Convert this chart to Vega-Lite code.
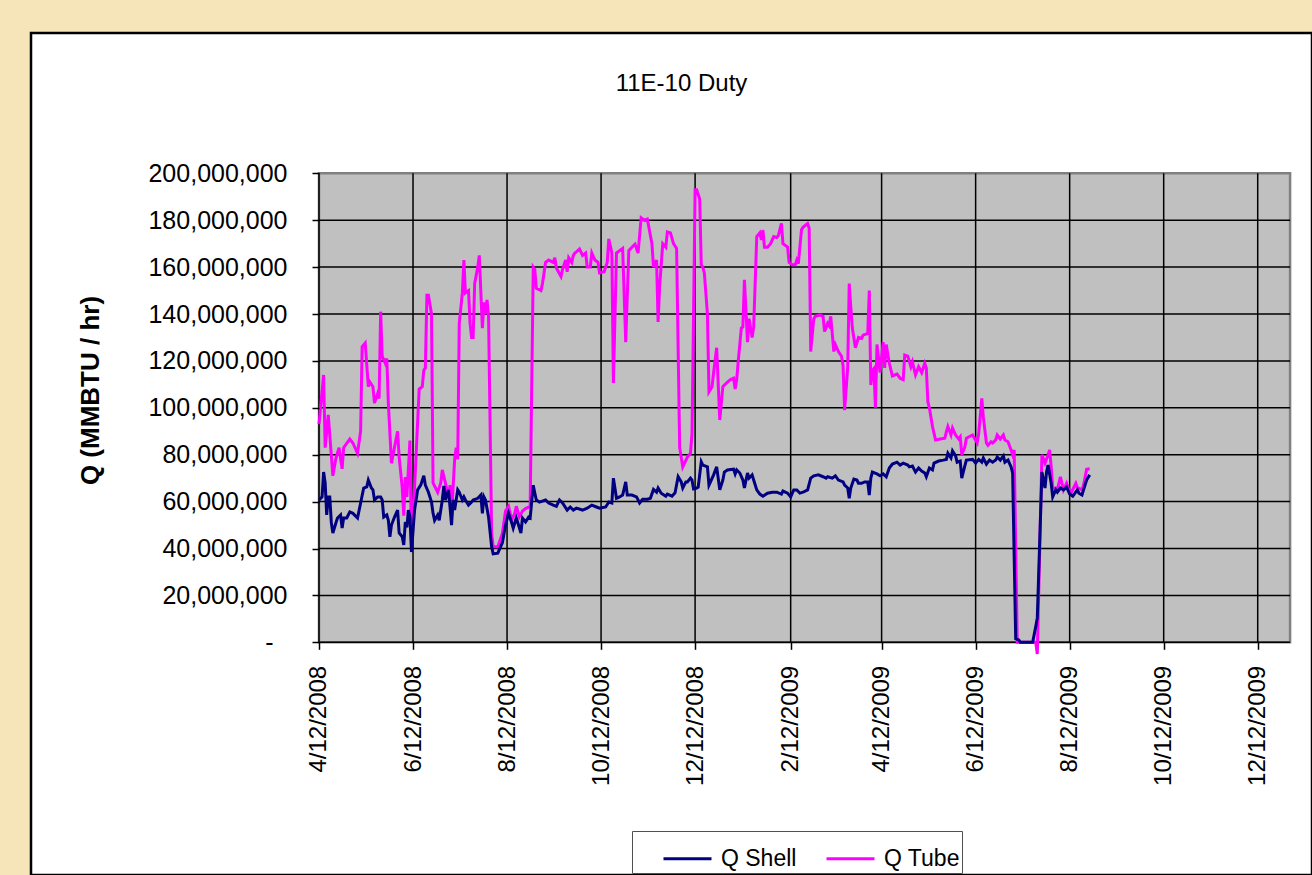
{
  "$schema": "https://vega.github.io/schema/vega-lite/v6.json",
  "width": 1281,
  "height": 842,
  "autosize": {"type": "none"},
  "padding": {"left": 31, "top": 33, "right": 0, "bottom": 0},
  "background": "#F6E5B8",
  "config": {
    "font": "Liberation Sans",
    "view": {"fill": "#FFFFFF", "stroke": "#000000", "strokeWidth": 2.5}
  },
  "title": {"text": "11E-10 Duty", "fontSize": 24, "fontWeight": "normal", "font": "Liberation Sans", "color": "#000000", "anchor": "middle", "frame": "group", "dx": 10, "baseline": "alphabetic", "offset": -82},
  "resolve": {"axis": {"x": "independent", "y": "independent"}},
  "datasets": {
    "plot": [{"start": "2008-04-12", "end": "2010-01-02", "low": 0, "high": 200000000}],
    "vgrid": [
      {"date": "2008-04-12", "low": 0, "high": 200000000},
      {"date": "2008-06-12", "low": 0, "high": 200000000},
      {"date": "2008-08-12", "low": 0, "high": 200000000},
      {"date": "2008-10-12", "low": 0, "high": 200000000},
      {"date": "2008-12-12", "low": 0, "high": 200000000},
      {"date": "2009-02-12", "low": 0, "high": 200000000},
      {"date": "2009-04-12", "low": 0, "high": 200000000},
      {"date": "2009-06-12", "low": 0, "high": 200000000},
      {"date": "2009-08-12", "low": 0, "high": 200000000},
      {"date": "2009-10-12", "low": 0, "high": 200000000},
      {"date": "2009-12-12", "low": 0, "high": 200000000}
    ],
    "hgrid": [
      {"q": 0, "from": "2008-04-12", "to": "2010-01-02"},
      {"q": 20000000, "from": "2008-04-12", "to": "2010-01-02"},
      {"q": 40000000, "from": "2008-04-12", "to": "2010-01-02"},
      {"q": 60000000, "from": "2008-04-12", "to": "2010-01-02"},
      {"q": 80000000, "from": "2008-04-12", "to": "2010-01-02"},
      {"q": 100000000, "from": "2008-04-12", "to": "2010-01-02"},
      {"q": 120000000, "from": "2008-04-12", "to": "2010-01-02"},
      {"q": 140000000, "from": "2008-04-12", "to": "2010-01-02"},
      {"q": 160000000, "from": "2008-04-12", "to": "2010-01-02"},
      {"q": 180000000, "from": "2008-04-12", "to": "2010-01-02"}
    ],
    "shell": [
      {"date":"2008-04-12","q":60700000},{"date":"2008-04-14","q":62000000},{"date":"2008-04-15","q":72600000},{"date":"2008-04-16","q":68000000},{"date":"2008-04-17","q":54300000},{"date":"2008-04-18","q":62000000},{"date":"2008-04-19","q":62000000},{"date":"2008-04-20","q":51000000},{"date":"2008-04-21","q":46600000},{"date":"2008-04-23","q":51000000},{"date":"2008-04-24","q":53000000},{"date":"2008-04-26","q":54300000},{"date":"2008-04-27","q":48700000},{"date":"2008-04-28","q":53000000},{"date":"2008-04-30","q":53000000},
      {"date":"2008-05-02","q":55600000},{"date":"2008-05-04","q":55000000},{"date":"2008-05-07","q":53000000},{"date":"2008-05-09","q":59400000},{"date":"2008-05-11","q":65800000},{"date":"2008-05-13","q":66300000},{"date":"2008-05-14","q":69200000},{"date":"2008-05-16","q":65800000},{"date":"2008-05-17","q":65000000},{"date":"2008-05-18","q":60700000},{"date":"2008-05-20","q":62000000},{"date":"2008-05-22","q":62000000},{"date":"2008-05-23","q":60700000},{"date":"2008-05-24","q":53400000},{"date":"2008-05-26","q":54300000},{"date":"2008-05-27","q":52000000},{"date":"2008-05-28","q":45000000},{"date":"2008-05-29","q":50000000},{"date":"2008-05-31","q":53400000},
      {"date":"2008-06-02","q":56400000},{"date":"2008-06-03","q":46600000},{"date":"2008-06-05","q":45000000},{"date":"2008-06-06","q":41500000},{"date":"2008-06-07","q":51300000},{"date":"2008-06-08","q":49000000},{"date":"2008-06-09","q":56400000},{"date":"2008-06-10","q":53400000},{"date":"2008-06-11","q":38500000},{"date":"2008-06-13","q":56400000},{"date":"2008-06-15","q":65000000},{"date":"2008-06-17","q":67000000},{"date":"2008-06-19","q":71000000},{"date":"2008-06-20","q":67000000},{"date":"2008-06-22","q":64000000},{"date":"2008-06-24","q":59800000},{"date":"2008-06-25","q":55000000},{"date":"2008-06-26","q":52000000},{"date":"2008-06-28","q":54300000},{"date":"2008-06-29","q":52000000},
      {"date":"2008-07-01","q":60700000},{"date":"2008-07-02","q":66700000},{"date":"2008-07-03","q":60700000},{"date":"2008-07-05","q":65000000},{"date":"2008-07-06","q":57700000},{"date":"2008-07-07","q":50000000},{"date":"2008-07-08","q":60700000},{"date":"2008-07-09","q":56400000},{"date":"2008-07-11","q":65000000},{"date":"2008-07-12","q":64000000},{"date":"2008-07-14","q":60700000},{"date":"2008-07-15","q":62000000},{"date":"2008-07-16","q":60700000},{"date":"2008-07-18","q":58500000},{"date":"2008-07-20","q":59800000},{"date":"2008-07-21","q":60700000},{"date":"2008-07-24","q":61400000},{"date":"2008-07-26","q":62800000},{"date":"2008-07-27","q":55000000},{"date":"2008-07-28","q":62000000},{"date":"2008-07-29","q":60700000},{"date":"2008-07-31","q":53400000},
      {"date":"2008-08-02","q":40700000},{"date":"2008-08-03","q":37700000},{"date":"2008-08-06","q":38000000},{"date":"2008-08-09","q":42500000},{"date":"2008-08-11","q":50000000},{"date":"2008-08-13","q":55000000},{"date":"2008-08-15","q":51000000},{"date":"2008-08-16","q":48700000},{"date":"2008-08-18","q":53000000},{"date":"2008-08-19","q":51000000},{"date":"2008-08-21","q":46600000},{"date":"2008-08-22","q":53000000},{"date":"2008-08-24","q":51300000},{"date":"2008-08-26","q":53400000},{"date":"2008-08-27","q":53000000},{"date":"2008-08-29","q":67000000},{"date":"2008-08-30","q":63700000},{"date":"2008-08-31","q":60700000},
      {"date":"2008-09-02","q":59800000},{"date":"2008-09-06","q":60700000},{"date":"2008-09-08","q":59400000},{"date":"2008-09-11","q":58500000},{"date":"2008-09-13","q":58000000},{"date":"2008-09-15","q":60700000},{"date":"2008-09-17","q":59400000},{"date":"2008-09-20","q":56400000},{"date":"2008-09-22","q":57700000},{"date":"2008-09-24","q":56400000},{"date":"2008-09-26","q":57200000},{"date":"2008-09-30","q":56400000},
      {"date":"2008-10-03","q":57200000},{"date":"2008-10-06","q":58500000},{"date":"2008-10-09","q":57700000},{"date":"2008-10-11","q":57200000},{"date":"2008-10-15","q":57700000},{"date":"2008-10-17","q":59800000},{"date":"2008-10-19","q":59400000},{"date":"2008-10-20","q":70000000},{"date":"2008-10-22","q":61400000},{"date":"2008-10-24","q":62000000},{"date":"2008-10-26","q":62800000},{"date":"2008-10-28","q":68400000},{"date":"2008-10-29","q":62800000},
      {"date":"2008-11-01","q":62800000},{"date":"2008-11-04","q":62000000},{"date":"2008-11-06","q":59400000},{"date":"2008-11-08","q":61000000},{"date":"2008-11-11","q":61000000},{"date":"2008-11-13","q":61400000},{"date":"2008-11-15","q":65200000},{"date":"2008-11-17","q":64000000},{"date":"2008-11-18","q":65800000},{"date":"2008-11-20","q":63600000},{"date":"2008-11-23","q":62300000},{"date":"2008-11-24","q":63200000},{"date":"2008-11-27","q":62300000},{"date":"2008-11-29","q":63800000},
      {"date":"2008-12-01","q":70600000},{"date":"2008-12-03","q":68400000},{"date":"2008-12-04","q":65800000},{"date":"2008-12-06","q":68400000},{"date":"2008-12-07","q":68400000},{"date":"2008-12-09","q":70000000},{"date":"2008-12-10","q":69200000},{"date":"2008-12-11","q":65400000},{"date":"2008-12-13","q":65800000},{"date":"2008-12-14","q":66200000},{"date":"2008-12-16","q":77000000},{"date":"2008-12-17","q":75600000},{"date":"2008-12-20","q":74800000},{"date":"2008-12-21","q":67000000},{"date":"2008-12-22","q":68400000},{"date":"2008-12-24","q":71400000},{"date":"2008-12-26","q":74800000},{"date":"2008-12-28","q":65000000},{"date":"2008-12-30","q":69200000},{"date":"2008-12-31","q":72600000},
      {"date":"2009-01-02","q":73500000},{"date":"2009-01-06","q":73800000},{"date":"2009-01-07","q":71800000},{"date":"2009-01-08","q":73500000},{"date":"2009-01-10","q":72200000},{"date":"2009-01-12","q":69200000},{"date":"2009-01-13","q":65800000},{"date":"2009-01-15","q":72200000},{"date":"2009-01-16","q":70000000},{"date":"2009-01-18","q":71400000},{"date":"2009-01-19","q":69200000},{"date":"2009-01-21","q":65000000},{"date":"2009-01-23","q":63200000},{"date":"2009-01-25","q":62300000},{"date":"2009-01-28","q":63600000},{"date":"2009-01-31","q":64000000},
      {"date":"2009-02-03","q":64000000},{"date":"2009-02-06","q":63200000},{"date":"2009-02-07","q":64500000},{"date":"2009-02-10","q":63600000},{"date":"2009-02-12","q":62000000},{"date":"2009-02-14","q":65000000},{"date":"2009-02-16","q":65000000},{"date":"2009-02-18","q":63600000},{"date":"2009-02-20","q":64000000},{"date":"2009-02-23","q":65000000},{"date":"2009-02-25","q":70000000},{"date":"2009-02-27","q":71000000},
      {"date":"2009-03-02","q":71400000},{"date":"2009-03-05","q":70600000},{"date":"2009-03-07","q":70000000},{"date":"2009-03-08","q":70600000},{"date":"2009-03-11","q":70000000},{"date":"2009-03-13","q":71000000},{"date":"2009-03-15","q":69200000},{"date":"2009-03-18","q":68400000},{"date":"2009-03-19","q":67000000},{"date":"2009-03-21","q":65800000},{"date":"2009-03-22","q":61400000},{"date":"2009-03-23","q":65800000},{"date":"2009-03-25","q":69600000},{"date":"2009-03-27","q":69200000},{"date":"2009-03-28","q":67800000},{"date":"2009-03-30","q":67800000},
      {"date":"2009-04-01","q":68400000},{"date":"2009-04-03","q":68400000},{"date":"2009-04-04","q":62800000},{"date":"2009-04-05","q":70000000},{"date":"2009-04-06","q":72600000},{"date":"2009-04-09","q":71800000},{"date":"2009-04-11","q":71000000},{"date":"2009-04-13","q":71800000},{"date":"2009-04-15","q":70600000},{"date":"2009-04-17","q":74300000},{"date":"2009-04-19","q":76000000},{"date":"2009-04-22","q":76800000},{"date":"2009-04-24","q":75600000},{"date":"2009-04-26","q":76400000},{"date":"2009-04-29","q":75600000},{"date":"2009-04-30","q":74800000},
      {"date":"2009-05-02","q":75200000},{"date":"2009-05-04","q":72600000},{"date":"2009-05-06","q":74300000},{"date":"2009-05-08","q":73000000},{"date":"2009-05-10","q":72200000},{"date":"2009-05-11","q":70600000},{"date":"2009-05-13","q":74300000},{"date":"2009-05-15","q":73500000},{"date":"2009-05-16","q":76400000},{"date":"2009-05-19","q":77300000},{"date":"2009-05-22","q":77700000},{"date":"2009-05-24","q":78000000},{"date":"2009-05-25","q":80600000},{"date":"2009-05-27","q":78600000},{"date":"2009-05-28","q":81600000},{"date":"2009-05-30","q":79500000},{"date":"2009-05-31","q":76800000},
      {"date":"2009-06-02","q":77300000},{"date":"2009-06-03","q":70000000},{"date":"2009-06-05","q":75200000},{"date":"2009-06-06","q":77700000},{"date":"2009-06-10","q":78000000},{"date":"2009-06-12","q":76400000},{"date":"2009-06-14","q":78000000},{"date":"2009-06-16","q":76800000},{"date":"2009-06-17","q":78600000},{"date":"2009-06-19","q":76000000},{"date":"2009-06-21","q":77700000},{"date":"2009-06-23","q":76800000},{"date":"2009-06-25","q":77700000},{"date":"2009-06-26","q":79000000},{"date":"2009-06-28","q":77700000},{"date":"2009-06-30","q":79500000},
      {"date":"2009-07-01","q":76800000},{"date":"2009-07-03","q":77700000},{"date":"2009-07-05","q":74800000},{"date":"2009-07-06","q":72200000},{"date":"2009-07-08","q":1500000},{"date":"2009-07-10","q":1000000},{"date":"2009-07-11","q":0},{"date":"2009-07-15","q":0},{"date":"2009-07-19","q":0},{"date":"2009-07-21","q":6700000},{"date":"2009-07-22","q":10400000},{"date":"2009-07-25","q":72600000},{"date":"2009-07-27","q":65800000},{"date":"2009-07-28","q":72600000},{"date":"2009-07-29","q":75600000},{"date":"2009-07-31","q":67800000},
      {"date":"2009-08-01","q":62000000},{"date":"2009-08-03","q":65000000},{"date":"2009-08-04","q":64000000},{"date":"2009-08-06","q":65800000},{"date":"2009-08-08","q":65000000},{"date":"2009-08-10","q":66200000},{"date":"2009-08-12","q":63200000},{"date":"2009-08-14","q":62300000},{"date":"2009-08-17","q":65000000},{"date":"2009-08-18","q":63600000},{"date":"2009-08-20","q":62800000},{"date":"2009-08-21","q":65000000},{"date":"2009-08-23","q":69200000},{"date":"2009-08-25","q":71400000}
    ],
    "tube": [
      {"date":"2008-04-12","q":93000000},{"date":"2008-04-15","q":114000000},{"date":"2008-04-16","q":83000000},{"date":"2008-04-18","q":97000000},{"date":"2008-04-21","q":71000000},{"date":"2008-04-23","q":78600000},{"date":"2008-04-25","q":83000000},{"date":"2008-04-27","q":74000000},{"date":"2008-04-28","q":83000000},
      {"date":"2008-05-02","q":86700000},{"date":"2008-05-04","q":85000000},{"date":"2008-05-07","q":80600000},{"date":"2008-05-09","q":90000000},{"date":"2008-05-10","q":126000000},{"date":"2008-05-12","q":127600000},{"date":"2008-05-14","q":109000000},{"date":"2008-05-15","q":111000000},{"date":"2008-05-17","q":109000000},{"date":"2008-05-18","q":102000000},{"date":"2008-05-20","q":106000000},{"date":"2008-05-21","q":104000000},{"date":"2008-05-22","q":141000000},{"date":"2008-05-23","q":122000000},{"date":"2008-05-25","q":119000000},{"date":"2008-05-26","q":121000000},{"date":"2008-05-27","q":102000000},{"date":"2008-05-29","q":76400000},
      {"date":"2008-06-02","q":90000000},{"date":"2008-06-03","q":79000000},{"date":"2008-06-05","q":66000000},{"date":"2008-06-06","q":54000000},{"date":"2008-06-07","q":70500000},{"date":"2008-06-08","q":62000000},{"date":"2008-06-10","q":86000000},{"date":"2008-06-11","q":42000000},{"date":"2008-06-13","q":66000000},{"date":"2008-06-16","q":108000000},{"date":"2008-06-18","q":109000000},{"date":"2008-06-19","q":116000000},{"date":"2008-06-20","q":117000000},{"date":"2008-06-21","q":148000000},{"date":"2008-06-22","q":148000000},{"date":"2008-06-24","q":140000000},{"date":"2008-06-25","q":68000000},{"date":"2008-06-28","q":64000000},{"date":"2008-06-30","q":68000000},
      {"date":"2008-07-01","q":73500000},{"date":"2008-07-03","q":68000000},{"date":"2008-07-05","q":62000000},{"date":"2008-07-06","q":67000000},{"date":"2008-07-07","q":54000000},{"date":"2008-07-09","q":78000000},{"date":"2008-07-10","q":83000000},{"date":"2008-07-11","q":78000000},{"date":"2008-07-12","q":136000000},{"date":"2008-07-14","q":149000000},{"date":"2008-07-15","q":163000000},{"date":"2008-07-16","q":149000000},{"date":"2008-07-18","q":150000000},{"date":"2008-07-19","q":136000000},{"date":"2008-07-20","q":130000000},{"date":"2008-07-21","q":130000000},{"date":"2008-07-22","q":153000000},{"date":"2008-07-24","q":160000000},{"date":"2008-07-25","q":165000000},{"date":"2008-07-27","q":134000000},{"date":"2008-07-28","q":145000000},{"date":"2008-07-29","q":140000000},{"date":"2008-07-30","q":146000000},{"date":"2008-07-31","q":139000000},
      {"date":"2008-08-02","q":46500000},{"date":"2008-08-03","q":40700000},{"date":"2008-08-06","q":40700000},{"date":"2008-08-09","q":46500000},{"date":"2008-08-11","q":56000000},{"date":"2008-08-13","q":58000000},{"date":"2008-08-15","q":52000000},{"date":"2008-08-17","q":55000000},{"date":"2008-08-18","q":58000000},{"date":"2008-08-20","q":53500000},{"date":"2008-08-22","q":56000000},{"date":"2008-08-24","q":57000000},{"date":"2008-08-27","q":58000000},{"date":"2008-08-29","q":160000000},{"date":"2008-08-30","q":159000000},{"date":"2008-08-31","q":151000000},
      {"date":"2008-09-03","q":150000000},{"date":"2008-09-04","q":153000000},{"date":"2008-09-06","q":162000000},{"date":"2008-09-08","q":163000000},{"date":"2008-09-11","q":162000000},{"date":"2008-09-12","q":164000000},{"date":"2008-09-13","q":159600000},{"date":"2008-09-16","q":156000000},{"date":"2008-09-17","q":159000000},{"date":"2008-09-19","q":163000000},{"date":"2008-09-20","q":158000000},{"date":"2008-09-21","q":164000000},{"date":"2008-09-23","q":162000000},{"date":"2008-09-24","q":165000000},{"date":"2008-09-25","q":166000000},{"date":"2008-09-26","q":166500000},{"date":"2008-09-28","q":167700000},{"date":"2008-09-30","q":165000000},
      {"date":"2008-10-02","q":166000000},{"date":"2008-10-03","q":160000000},{"date":"2008-10-05","q":160000000},{"date":"2008-10-06","q":166000000},{"date":"2008-10-08","q":163000000},{"date":"2008-10-10","q":162000000},{"date":"2008-10-11","q":157500000},{"date":"2008-10-14","q":158000000},{"date":"2008-10-16","q":162000000},{"date":"2008-10-17","q":172000000},{"date":"2008-10-19","q":166000000},{"date":"2008-10-20","q":110600000},{"date":"2008-10-22","q":166000000},{"date":"2008-10-26","q":168000000},{"date":"2008-10-28","q":128000000},{"date":"2008-10-30","q":167000000},
      {"date":"2008-11-01","q":168500000},{"date":"2008-11-03","q":169800000},{"date":"2008-11-05","q":166000000},{"date":"2008-11-07","q":181000000},{"date":"2008-11-09","q":180000000},{"date":"2008-11-11","q":180500000},{"date":"2008-11-14","q":170000000},{"date":"2008-11-15","q":160000000},{"date":"2008-11-17","q":163000000},{"date":"2008-11-18","q":136600000},{"date":"2008-11-19","q":151600000},{"date":"2008-11-21","q":170000000},{"date":"2008-11-23","q":168500000},{"date":"2008-11-24","q":175000000},{"date":"2008-11-26","q":174600000},{"date":"2008-11-28","q":170000000},{"date":"2008-11-30","q":168000000},
      {"date":"2008-12-02","q":83000000},{"date":"2008-12-04","q":74800000},{"date":"2008-12-07","q":79000000},{"date":"2008-12-09","q":80600000},{"date":"2008-12-10","q":89000000},{"date":"2008-12-12","q":193000000},{"date":"2008-12-13","q":193000000},{"date":"2008-12-15","q":189000000},{"date":"2008-12-16","q":161000000},{"date":"2008-12-17","q":160000000},{"date":"2008-12-18","q":157500000},{"date":"2008-12-20","q":140000000},{"date":"2008-12-21","q":106800000},{"date":"2008-12-23","q":109000000},{"date":"2008-12-24","q":115000000},{"date":"2008-12-26","q":125600000},{"date":"2008-12-28","q":94800000},{"date":"2008-12-30","q":109000000},
      {"date":"2009-01-02","q":111000000},{"date":"2009-01-04","q":112000000},{"date":"2009-01-06","q":112600000},{"date":"2009-01-07","q":108000000},{"date":"2009-01-08","q":112000000},{"date":"2009-01-09","q":120000000},{"date":"2009-01-11","q":134000000},{"date":"2009-01-12","q":134500000},{"date":"2009-01-13","q":154600000},{"date":"2009-01-15","q":128000000},{"date":"2009-01-16","q":138000000},{"date":"2009-01-18","q":130000000},{"date":"2009-01-19","q":134500000},{"date":"2009-01-21","q":173000000},{"date":"2009-01-23","q":174600000},{"date":"2009-01-24","q":171600000},{"date":"2009-01-25","q":175800000},{"date":"2009-01-26","q":168500000},{"date":"2009-01-28","q":168500000},{"date":"2009-01-30","q":170000000},
      {"date":"2009-02-01","q":173000000},{"date":"2009-02-03","q":172600000},{"date":"2009-02-04","q":173400000},{"date":"2009-02-06","q":178600000},{"date":"2009-02-07","q":170000000},{"date":"2009-02-10","q":168500000},{"date":"2009-02-11","q":162000000},{"date":"2009-02-13","q":161000000},{"date":"2009-02-15","q":161000000},{"date":"2009-02-16","q":163000000},{"date":"2009-02-17","q":161500000},{"date":"2009-02-19","q":175800000},{"date":"2009-02-20","q":177000000},{"date":"2009-02-23","q":178600000},{"date":"2009-02-24","q":176600000},{"date":"2009-02-25","q":124000000},{"date":"2009-02-27","q":138000000},{"date":"2009-02-28","q":139000000},
      {"date":"2009-03-03","q":139600000},{"date":"2009-03-05","q":139000000},{"date":"2009-03-06","q":132500000},{"date":"2009-03-08","q":136000000},{"date":"2009-03-09","q":135000000},{"date":"2009-03-10","q":139000000},{"date":"2009-03-12","q":124000000},{"date":"2009-03-13","q":127000000},{"date":"2009-03-15","q":124000000},{"date":"2009-03-17","q":122000000},{"date":"2009-03-18","q":118000000},{"date":"2009-03-19","q":99000000},{"date":"2009-03-21","q":117000000},{"date":"2009-03-22","q":153000000},{"date":"2009-03-23","q":143000000},{"date":"2009-03-24","q":134000000},{"date":"2009-03-26","q":125600000},{"date":"2009-03-28","q":130000000},{"date":"2009-03-30","q":129600000},{"date":"2009-03-31","q":131000000},
      {"date":"2009-04-03","q":131700000},{"date":"2009-04-04","q":150000000},{"date":"2009-04-05","q":109700000},{"date":"2009-04-06","q":116000000},{"date":"2009-04-07","q":116800000},{"date":"2009-04-08","q":100000000},{"date":"2009-04-09","q":127000000},{"date":"2009-04-11","q":115000000},{"date":"2009-04-13","q":128000000},{"date":"2009-04-14","q":117000000},{"date":"2009-04-15","q":127000000},{"date":"2009-04-17","q":119000000},{"date":"2009-04-19","q":113600000},{"date":"2009-04-22","q":114400000},{"date":"2009-04-24","q":112600000},{"date":"2009-04-26","q":112000000},{"date":"2009-04-27","q":122500000},{"date":"2009-04-29","q":122000000},
      {"date":"2009-05-01","q":117500000},{"date":"2009-05-02","q":119600000},{"date":"2009-05-04","q":114000000},{"date":"2009-05-06","q":117500000},{"date":"2009-05-08","q":115000000},{"date":"2009-05-10","q":119000000},{"date":"2009-05-11","q":117000000},{"date":"2009-05-12","q":102600000},{"date":"2009-05-13","q":100000000},{"date":"2009-05-15","q":92000000},{"date":"2009-05-17","q":86300000},{"date":"2009-05-20","q":86700000},{"date":"2009-05-23","q":87000000},{"date":"2009-05-24","q":89700000},{"date":"2009-05-25","q":92000000},{"date":"2009-05-27","q":88400000},{"date":"2009-05-28","q":91400000},{"date":"2009-05-30","q":88400000},
      {"date":"2009-06-01","q":86700000},{"date":"2009-06-02","q":87600000},{"date":"2009-06-03","q":80000000},{"date":"2009-06-05","q":83300000},{"date":"2009-06-06","q":87000000},{"date":"2009-06-10","q":88400000},{"date":"2009-06-13","q":85000000},{"date":"2009-06-14","q":89000000},{"date":"2009-06-16","q":104000000},{"date":"2009-06-17","q":96000000},{"date":"2009-06-19","q":85000000},{"date":"2009-06-20","q":84000000},{"date":"2009-06-22","q":85500000},{"date":"2009-06-23","q":85000000},{"date":"2009-06-25","q":86300000},{"date":"2009-06-26","q":88400000},{"date":"2009-06-28","q":86700000},{"date":"2009-06-30","q":88400000},
      {"date":"2009-07-01","q":86300000},{"date":"2009-07-03","q":85500000},{"date":"2009-07-05","q":82000000},{"date":"2009-07-06","q":80000000},{"date":"2009-07-07","q":82000000},{"date":"2009-07-09","q":0},{"date":"2009-07-12","q":0},{"date":"2009-07-15","q":0},{"date":"2009-07-18","q":0},{"date":"2009-07-21","q":0},{"date":"2009-07-22","q":-5000000},{"date":"2009-07-25","q":80000000},{"date":"2009-07-27","q":76400000},{"date":"2009-07-29","q":80000000},{"date":"2009-07-30","q":82000000},{"date":"2009-07-31","q":75000000},
      {"date":"2009-08-01","q":65800000},{"date":"2009-08-03","q":65800000},{"date":"2009-08-04","q":65000000},{"date":"2009-08-06","q":70600000},{"date":"2009-08-08","q":65000000},{"date":"2009-08-10","q":67800000},{"date":"2009-08-11","q":65800000},{"date":"2009-08-13","q":63800000},{"date":"2009-08-16","q":67800000},{"date":"2009-08-17","q":66000000},{"date":"2009-08-20","q":65000000},{"date":"2009-08-21","q":67000000},{"date":"2009-08-23","q":73800000},{"date":"2009-08-25","q":74000000}
    ]
  },
  "layer": [
    {
      "data": {"name": "plot"},
      "mark": {"type": "rect", "fill": "#C0C0C0", "stroke": "#808080", "strokeWidth": 2.5},
      "encoding": {
        "x": {"field": "start", "type": "temporal",
          "scale": {"type": "utc", "nice": false, "domain": [{"year": 2007, "month": 10, "date": 8, "hours": 3, "minutes": 50, "utc": true}, {"year": 2010, "month": 1, "date": 16, "hours": 5, "minutes": 17, "utc": true}]},
          "axis": {"orient": "bottom", "offset": -232.7, "title": null, "domain": false, "grid": false, "zindex": 1,
            "values": [{"year": 2008, "month": 4, "date": 12, "utc": true}, {"year": 2008, "month": 6, "date": 12, "utc": true}, {"year": 2008, "month": 8, "date": 12, "utc": true}, {"year": 2008, "month": 10, "date": 12, "utc": true}, {"year": 2008, "month": 12, "date": 12, "utc": true}, {"year": 2009, "month": 2, "date": 12, "utc": true}, {"year": 2009, "month": 4, "date": 12, "utc": true}, {"year": 2009, "month": 6, "date": 12, "utc": true}, {"year": 2009, "month": 8, "date": 12, "utc": true}, {"year": 2009, "month": 10, "date": 12, "utc": true}, {"year": 2009, "month": 12, "date": 12, "utc": true}],
            "labelExpr": "utcFormat(datum.value, '%-m/%d/%Y')",
            "labelAngle": 270, "labelAlign": "right", "labelBaseline": "middle", "labelPadding": 16,
            "labelFont": "Liberation Sans", "labelFontSize": 24, "labelColor": "#000000",
            "labelOverlap": false, "labelFlush": false, "labelBound": false,
            "tickSize": 7, "tickColor": "#000000", "tickWidth": 1.5}},
        "x2": {"field": "end"},
        "y": {"field": "low", "type": "quantitative",
          "scale": {"domain": [-99230000, 259830000], "nice": false, "zero": false},
          "axis": {"orient": "left", "offset": -288, "domain": false, "grid": false, "zindex": 1,
            "values": [0, 20000000, 40000000, 60000000, 80000000, 100000000, 120000000, 140000000, 160000000, 180000000, 200000000],
            "labelExpr": "datum.value == 0 ? '-' : format(datum.value, ',')",
            "labelFont": "Liberation Sans", "labelFontSize": 25, "labelColor": "#000000",
            "labelPadding": {"condition": {"test": "datum.value == 0", "value": 39}, "value": 25},
            "labelOverlap": false, "labelFlush": false, "labelBound": false,
            "tickSize": 7, "tickColor": "#000000", "tickWidth": 1.5,
            "title": "Q (MMBTU / hr)", "titleFont": "Liberation Sans", "titleFontSize": 26, "titleFontWeight": "bold", "titleColor": "#000000",
            "titleX": -229, "titleY": 357, "titleAngle": 270, "titleAlign": "center", "titleBaseline": "middle"}},
        "y2": {"field": "high"}
      }
    },
    {
      "data": {"name": "vgrid"},
      "mark": {"type": "rule", "color": "#000000", "strokeWidth": 1.5},
      "encoding": {
        "x": {"field": "date", "type": "temporal", "axis": null,
          "scale": {"type": "utc", "nice": false, "domain": [{"year": 2007, "month": 10, "date": 8, "hours": 3, "minutes": 50, "utc": true}, {"year": 2010, "month": 1, "date": 16, "hours": 5, "minutes": 17, "utc": true}]}},
        "y": {"field": "low", "type": "quantitative", "axis": null, "scale": {"domain": [-99230000, 259830000], "nice": false, "zero": false}},
        "y2": {"field": "high"}
      }
    },
    {
      "data": {"name": "hgrid"},
      "mark": {"type": "rule", "color": "#000000", "strokeWidth": 1.5},
      "encoding": {
        "x": {"field": "from", "type": "temporal", "axis": null,
          "scale": {"type": "utc", "nice": false, "domain": [{"year": 2007, "month": 10, "date": 8, "hours": 3, "minutes": 50, "utc": true}, {"year": 2010, "month": 1, "date": 16, "hours": 5, "minutes": 17, "utc": true}]}},
        "x2": {"field": "to"},
        "y": {"field": "q", "type": "quantitative", "axis": null, "scale": {"domain": [-99230000, 259830000], "nice": false, "zero": false}}
      }
    },
    {
      "data": {"name": "tube"},
      "mark": {"type": "line", "strokeWidth": 3},
      "encoding": {
        "x": {"field": "date", "type": "temporal", "axis": null,
          "scale": {"type": "utc", "nice": false, "domain": [{"year": 2007, "month": 10, "date": 8, "hours": 3, "minutes": 50, "utc": true}, {"year": 2010, "month": 1, "date": 16, "hours": 5, "minutes": 17, "utc": true}]}},
        "y": {"field": "q", "type": "quantitative", "axis": null, "scale": {"domain": [-99230000, 259830000], "nice": false, "zero": false}},
        "color": {"datum": "Q Tube", "type": "nominal",
          "scale": {"domain": ["Q Shell", "Q Tube"], "range": ["#000080", "#FF00FF"]},
          "legend": {"orient": "none", "legendX": 601, "legendY": 798, "direction": "horizontal", "title": null,
            "symbolType": "stroke", "symbolSize": 2304, "symbolStrokeWidth": 3,
            "labelFont": "Liberation Sans", "labelFontSize": 23, "labelColor": "#000000", "labelOffset": 8, "labelLimit": 300,
            "padding": 2, "symbolOffset": 28, "columnPadding": -2,
            "strokeColor": "#505050", "fillColor": "#FFFFFF"}}
      }
    },
    {
      "data": {"name": "shell"},
      "mark": {"type": "line", "strokeWidth": 3},
      "encoding": {
        "x": {"field": "date", "type": "temporal", "axis": null,
          "scale": {"type": "utc", "nice": false, "domain": [{"year": 2007, "month": 10, "date": 8, "hours": 3, "minutes": 50, "utc": true}, {"year": 2010, "month": 1, "date": 16, "hours": 5, "minutes": 17, "utc": true}]}},
        "y": {"field": "q", "type": "quantitative", "axis": null, "scale": {"domain": [-99230000, 259830000], "nice": false, "zero": false}},
        "color": {"datum": "Q Shell", "type": "nominal"}
      }
    }
  ]
}
